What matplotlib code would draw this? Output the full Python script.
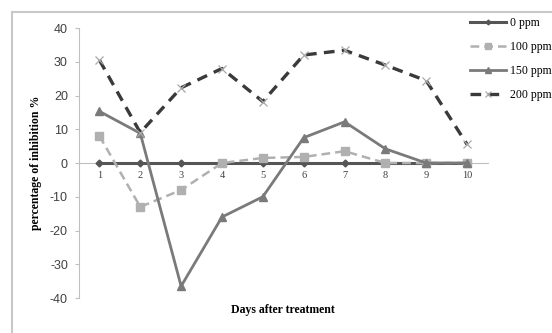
import matplotlib.pyplot as plt
from matplotlib.lines import Line2D

plt.rcParams['axes.unicode_minus'] = False

# data
days = [1, 2, 3, 4, 5, 6, 7, 8, 9, 10]
ppm0 = [0, 0, 0, 0, 0, 0, 0, 0, 0, 0]
ppm100 = [8, -13, -8, 0, 1.5, 1.8, 3.5, 0, 0, 0]
ppm150 = [15.3, 8.8, -36.5, -16, -10, 7.5, 12.2, 4.2, 0, 0]
ppm200 = [30.5, 9, 22.3, 28, 18.2, 32, 33.4, 29, 24.4, 5.5]
labels = ['0 ppm', '100 ppm', '150 ppm', '200 ppm']
yticks = [-40, -30, -20, -10, 0, 10, 20, 30, 40]

serif = 'Liberation Serif'
sans = 'Liberation Sans'

fig = plt.figure(figsize=(5.52, 3.33), dpi=100)
ax = fig.add_axes([0.1431, 0.1051, 0.7401, 0.8108])

ax.plot(days, ppm0, color='#555555', lw=2.2, marker='D', ms=3.5,
        label=labels[0], zorder=3)
ax.plot(days, ppm100, color='#b0b0b0', lw=1.8, ls=(0, (3.5, 2)), marker='s',
        ms=6, label=labels[1], zorder=4)
ax.plot(days, ppm150, color='#7a7a7a', lw=2.0, marker='^', ms=6,
        label=labels[2], zorder=5)
ax.plot(days, ppm200, color='#3a3a3a', lw=2.4, ls=(0, (3.2, 2.2)), marker='x',
        ms=6, mec='#a8a8a8', mew=0.9, label=labels[3], zorder=6)

ax.set_xlim(0.5, 10.5)
ax.set_ylim(-40, 40)
ax.set_yticks(yticks)
ax.set_xticks(days)

for s in ['top', 'right']:
    ax.spines[s].set_visible(False)
ax.spines['left'].set_color('#bfbfbf')
ax.spines['bottom'].set_position(('data', 0))
ax.spines['bottom'].set_color('#bfbfbf')
ax.spines['bottom'].set_zorder(1)

ax.tick_params(axis='y', length=3, color='#bfbfbf', pad=5, labelsize=9,
               labelcolor='#404040')
ax.tick_params(axis='x', length=0, pad=6, labelsize=7.5, labelcolor='#404040')
for t in ax.get_yticklabels():
    t.set_fontfamily(sans)
for t in ax.get_xticklabels():
    t.set_fontfamily(serif)

ax.set_ylabel('percentage of inhibition %', fontfamily=serif, fontweight='bold',
              fontsize=8.5, labelpad=6)
fig.text(0.513, 0.069, 'Days after treatment', fontfamily=serif,
         fontweight='bold', fontsize=8.5, ha='center', va='center')

leg = fig.legend(loc='upper left', bbox_to_anchor=(0.851, 0.948), frameon=False,
                 prop={'family': serif, 'size': 8.5}, handlelength=3.1,
                 handletextpad=0.3, labelspacing=1.0, borderaxespad=0,
                 borderpad=0, markerscale=0.7)

# chart frame (left and top edges only visible)
fig.add_artist(Line2D([12 / 552, 12 / 552], [0, 1 - 12 / 333],
                      transform=fig.transFigure, color='#c8c8c8', lw=1.5))
fig.add_artist(Line2D([12 / 552, 1], [1 - 12 / 333, 1 - 12 / 333],
                      transform=fig.transFigure, color='#c8c8c8', lw=1.5))

fig.savefig('out.png', dpi=100)
